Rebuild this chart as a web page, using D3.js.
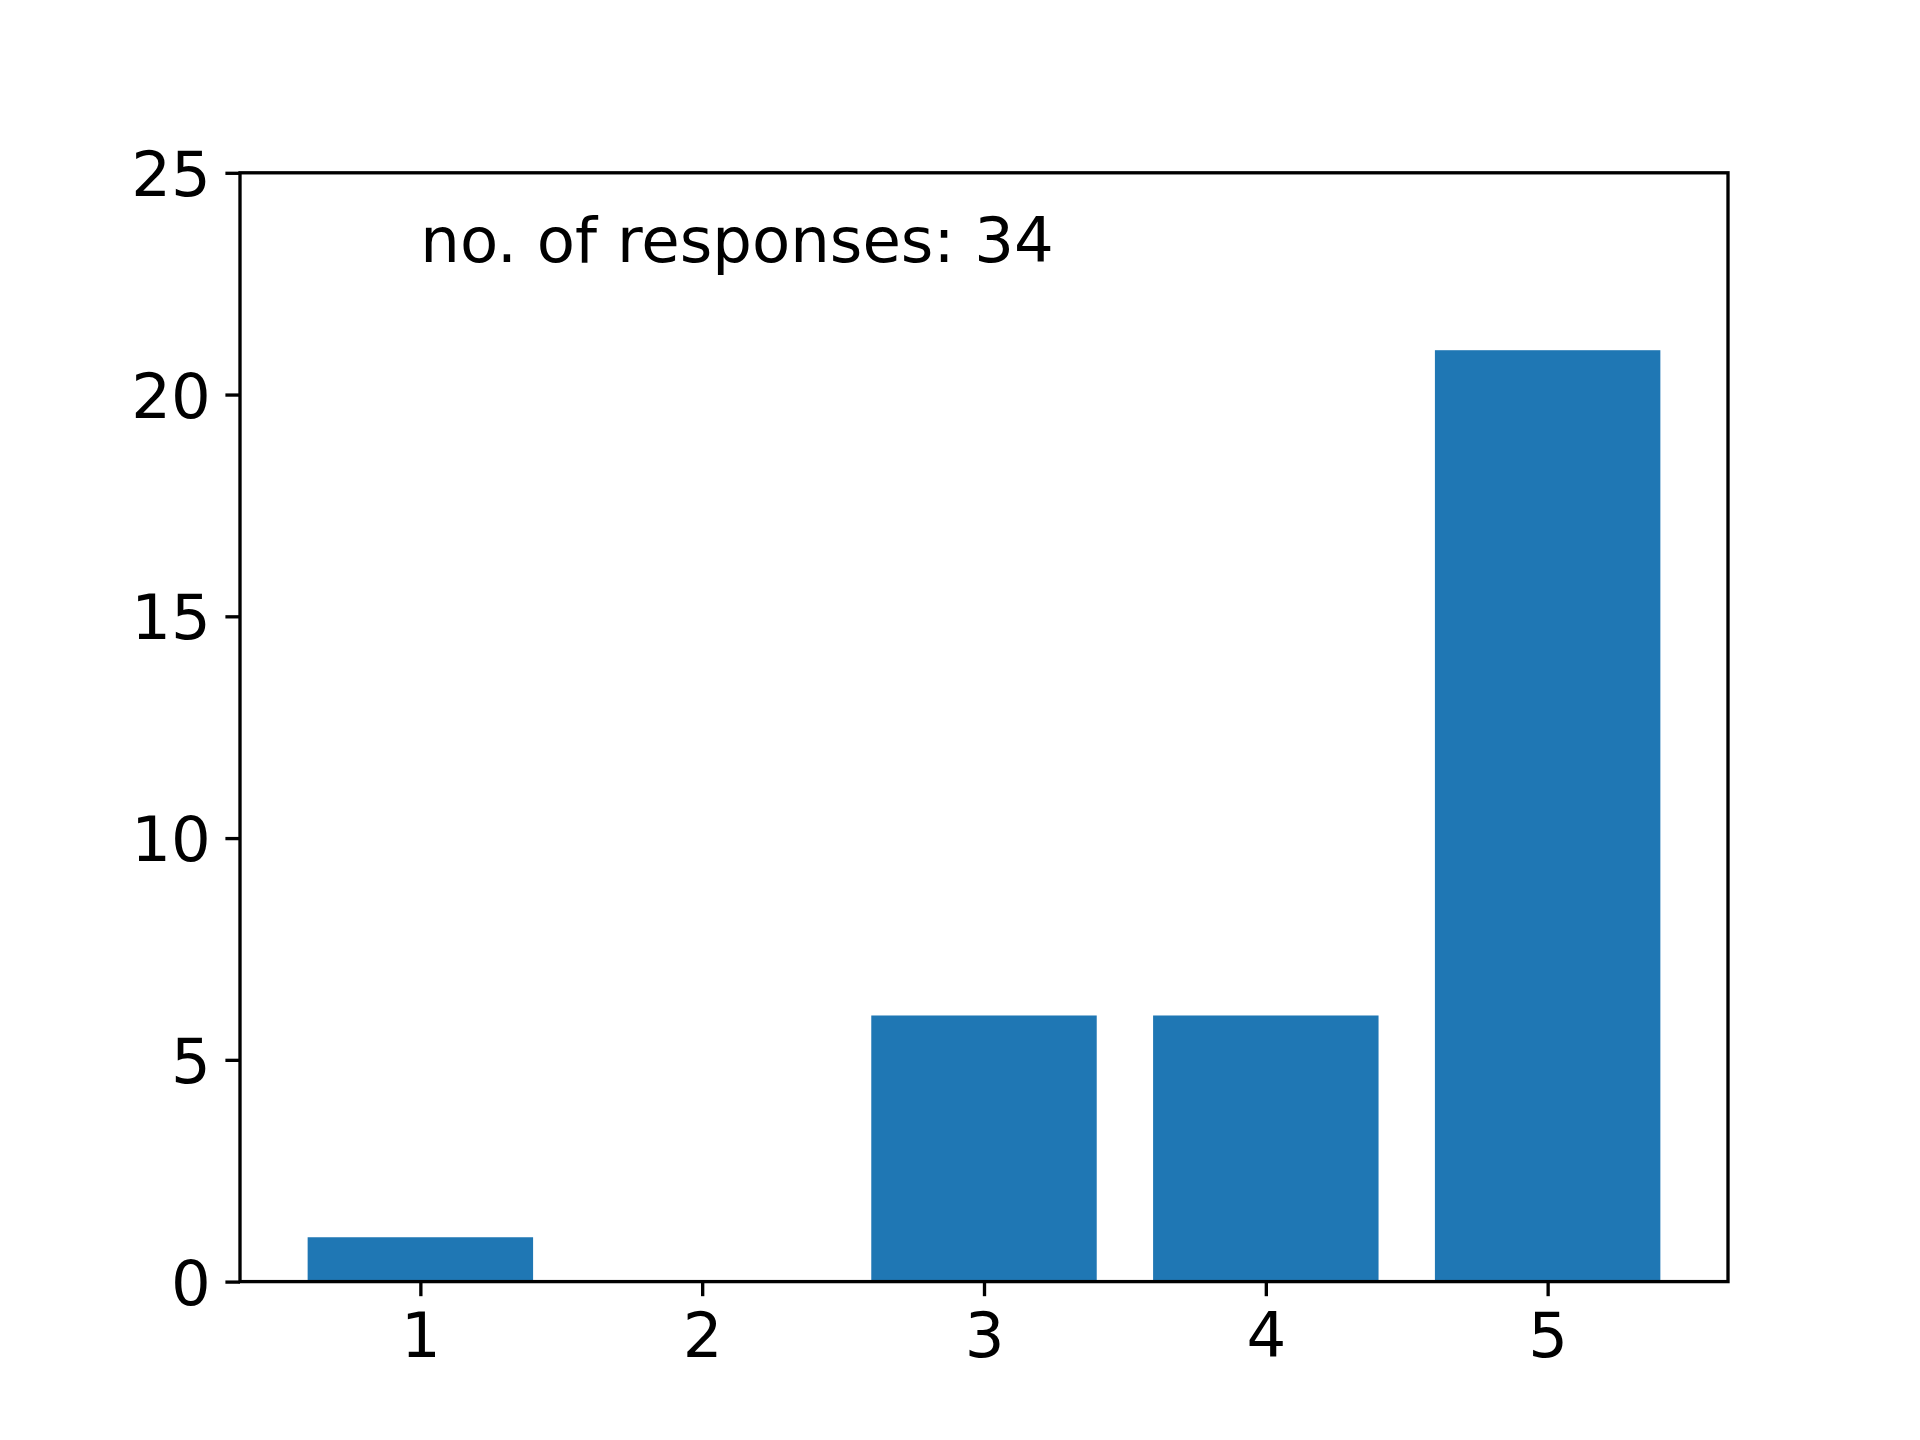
<!DOCTYPE html>
<html>
<head>
<meta charset="utf-8">
<script src="https://cdn.jsdelivr.net/npm/d3@7"></script>
<style>
  body { margin: 0; background: #fff; }
  text { font-family: "DejaVu Sans", sans-serif; fill: #000; }
</style>
</head>
<body>
<script>
var categories = [1, 2, 3, 4, 5];
var counts = [1, 0, 6, 6, 21];
var yTicks = [0, 5, 10, 15, 20, 25];
var noteText = "no. of responses: 34";

var width = 1920, height = 1440;
var margin = { left: 240, right: 192, top: 172.8, bottom: 158.4 };
var barWidth = 0.8;

var svg = d3.select("body").append("svg")
  .attr("width", width)
  .attr("height", height);

// matplotlib style limits: bars span 0.6..5.4, plus 5% margins
var lo = d3.min(categories) - barWidth / 2, hi = d3.max(categories) + barWidth / 2;
var pad = (hi - lo) * 0.05;
var x = d3.scaleLinear()
  .domain([lo - pad, hi + pad])
  .range([margin.left, width - margin.right]);
var y = d3.scaleLinear()
  .domain([0, 25])
  .range([height - margin.bottom, margin.top]);

svg.append("g").selectAll("rect")
  .data(categories)
  .enter().append("rect")
  .attr("x", function (d) { return x(d - barWidth / 2); })
  .attr("width", function (d) { return x(d + barWidth / 2) - x(d - barWidth / 2); })
  .attr("y", function (d, i) { return y(counts[i]); })
  .attr("height", function (d, i) { return y(0) - y(counts[i]); })
  .attr("fill", "#1f77b4");

var tickLen = 14.6, tickPad = 14.6, fs = 62.5, lw = 3.33;

var xAxis = svg.append("g")
  .attr("transform", "translate(0," + y(0) + ")")
  .call(d3.axisBottom(x).tickValues(categories).tickFormat(d3.format("d"))
    .tickSize(tickLen).tickPadding(tickPad));
var yAxis = svg.append("g")
  .attr("transform", "translate(" + x.range()[0] + ",0)")
  .call(d3.axisLeft(y).tickValues(yTicks).tickFormat(d3.format("d"))
    .tickSize(tickLen).tickPadding(tickPad));

[xAxis, yAxis].forEach(function (a) {
  a.select(".domain").remove();
  a.selectAll(".tick line").attr("stroke", "#000").attr("stroke-width", lw);
  a.selectAll(".tick text")
    .style("font-family", "'DejaVu Sans', sans-serif")
    .style("font-size", fs + "px")
    .attr("fill", "#000");
});
xAxis.selectAll(".tick text").attr("dy", null).attr("y", tickLen + tickPad + 0.74 * fs);
yAxis.selectAll(".tick text").attr("dy", "0.36em");

// axes frame
svg.append("rect")
  .attr("x", x.range()[0])
  .attr("y", y.range()[1])
  .attr("width", x.range()[1] - x.range()[0])
  .attr("height", y.range()[0] - y.range()[1])
  .attr("fill", "none")
  .attr("stroke", "#000")
  .attr("stroke-width", lw);

svg.append("text")
  .attr("x", x(1))
  .attr("y", y(23))
  .style("font-size", "62.5px")
  .text(noteText);
</script>
</body>
</html>
